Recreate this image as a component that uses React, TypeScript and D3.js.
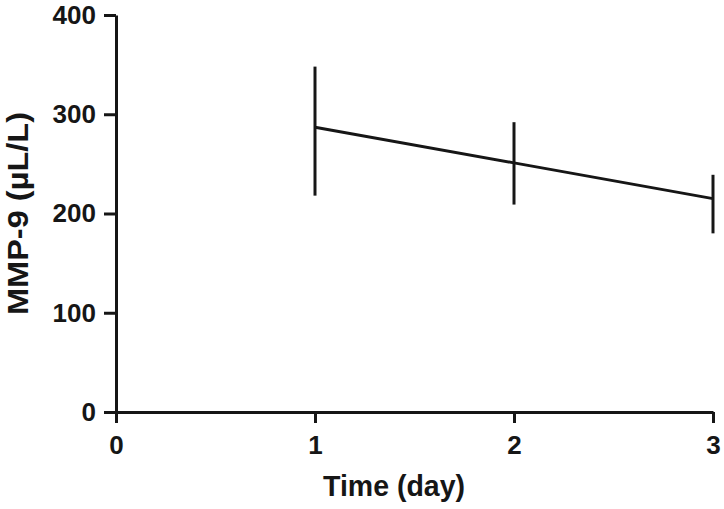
import React, { useEffect, useRef } from 'react';
import * as d3 from 'd3';

// Values
const days = [1, 2, 3];
const means = [287, 251, 215];
const upper = [348, 292, 239];
const lower = [218, 209, 180];
const xTicks = [0, 1, 2, 3];
const yTicks = [0, 100, 200, 300, 400];

const App = () => {
  const ref = useRef<SVGSVGElement | null>(null);

  useEffect(() => {
    const width = 724, height = 509;
    const margin = { top: 15, right: 11, bottom: 97, left: 116 };
    const svg = d3.select(ref.current);
    svg.selectAll('*').remove();
    svg.attr('width', width).attr('height', height);

    const x = d3.scaleLinear().domain([0, 3]).range([margin.left, width - margin.right]);
    const y = d3.scaleLinear().domain([0, 400]).range([height - margin.bottom, margin.top]);

    const font = 'Liberation Sans, Arial, sans-serif';
    const ink = '#161616';

    // y axis
    const ya = svg.append('g')
      .attr('transform', `translate(${x(0)},0)`)
      .call(d3.axisLeft(y).tickValues(yTicks).tickSize(12).tickPadding(8).tickSizeOuter(0));
    // x axis
    const xa = svg.append('g')
      .attr('transform', `translate(0,${y(0)})`)
      .call(d3.axisBottom(x).tickValues(xTicks).tickFormat(d3.format('d')).tickSize(11).tickPadding(13).tickSizeOuter(0));

    [ya, xa].forEach(g => {
      g.select('.domain').attr('stroke', ink).attr('stroke-width', 3);
      g.selectAll('.tick line').attr('stroke', ink).attr('stroke-width', 3);
      g.selectAll('.tick text')
        .attr('fill', ink)
        .style('font-family', font)
        .style('font-weight', 'bold')
        .style('font-size', '26px');
    });

    // error bars
    svg.append('g').selectAll('line')
      .data(days)
      .enter()
      .append('line')
      .attr('x1', d => x(d))
      .attr('x2', d => x(d))
      .attr('y1', (d, i) => y(upper[i]))
      .attr('y2', (d, i) => y(lower[i]))
      .attr('stroke', ink)
      .attr('stroke-width', 3);

    // mean line
    const line = d3.line<number>()
      .x(d => x(d))
      .y((d, i) => y(means[i]));
    svg.append('path')
      .datum(days)
      .attr('d', line)
      .attr('fill', 'none')
      .attr('stroke', ink)
      .attr('stroke-width', 3);

    // axis titles
    svg.append('text')
      .attr('x', 323)
      .attr('y', 496)
      .attr('textLength', 142)
      .attr('lengthAdjust', 'spacingAndGlyphs')
      .attr('fill', ink)
      .style('font-family', font)
      .style('font-weight', 'bold')
      .style('font-size', '29px')
      .text('Time (day)');

    svg.append('text')
      .attr('transform', `translate(28,315) rotate(-90)`)
      .attr('textLength', 203)
      .attr('lengthAdjust', 'spacingAndGlyphs')
      .attr('fill', ink)
      .style('font-family', font)
      .style('font-weight', 'bold')
      .style('font-size', '29px')
      .text('MMP-9 (µL/L)');
  }, []);

  return (
    <svg ref={ref} style={{ position: 'absolute', left: 0, top: 0, background: '#fff' }}></svg>
  );
};

export default App;
